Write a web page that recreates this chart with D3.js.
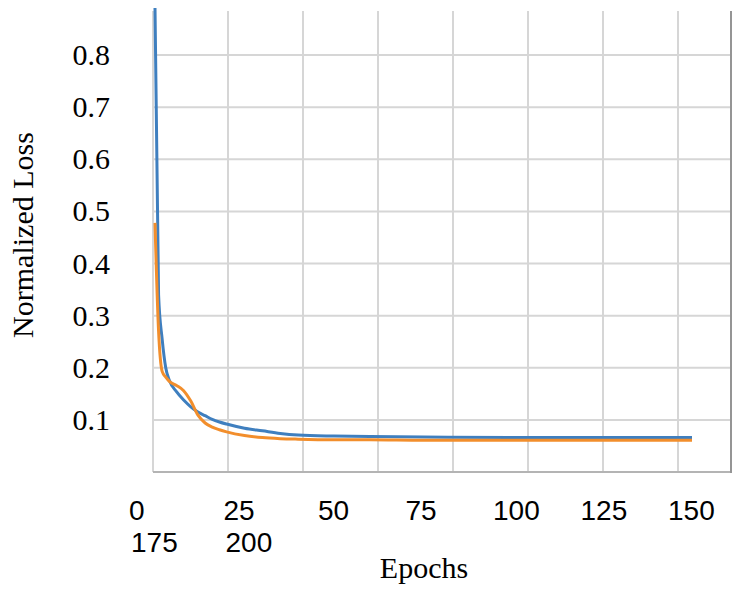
<!DOCTYPE html>
<html>
<head>
<meta charset="utf-8">
<script src="https://cdn.jsdelivr.net/npm/d3@7"></script>
<style>
  body { margin: 0; background: #fff; }
  svg { display: block; }
</style>
</head>
<body>
<div id="chart"></div>
<script>
// sampled epochs and the two loss curves
let epochs = [0, 1, 2, 3, 4, 6, 8, 10, 12, 14, 16, 18, 20, 25, 30, 35, 40, 50, 60, 75, 100, 125, 150];
let blueLoss = [0.89, 0.34, 0.255, 0.20, 0.176, 0.154, 0.138, 0.125, 0.115, 0.108, 0.101, 0.096, 0.092, 0.084, 0.079, 0.074, 0.071, 0.069, 0.068, 0.067, 0.066, 0.066, 0.066];
let orangeLoss = [0.478, 0.27, 0.193, 0.182, 0.174, 0.166, 0.156, 0.136, 0.109, 0.094, 0.086, 0.081, 0.077, 0.070, 0.066, 0.064, 0.063, 0.062, 0.062, 0.061, 0.061, 0.061, 0.061];

let yTicks = [0.1, 0.2, 0.3, 0.4, 0.5, 0.6, 0.7, 0.8];
let xTicks = [0, 25, 50, 75, 100, 125, 150];
let xTicksWrapped = ["175", "200"]; // second line under the first two tick labels
let gridEpochs = [0, 25, 50, 75, 100, 125, 150, 175];

var w = 747;
var h = 596;

var svg = d3.select('#chart').append('svg')
  .attr('width', w)
  .attr('height', h);

// scales
var x = d3.scaleLinear().domain([0, 150]).range([155, 692]);
var y = d3.scaleLinear().domain([0, 0.8]).range([472, 55]);
var xGrid = d3.scaleLinear().domain([0, 175]).range([153, 678]);
// tick labels are not evenly spaced in the picture
var xLabel = d3.scaleLinear().domain([0, 50, 150]).range([129, 318, 668]);

var plotTop = 11;
var plotRight = 731;

// grid
svg.append('g').selectAll('line')
  .data(yTicks)
  .enter().append('line')
  .attr('x1', xGrid(0)).attr('x2', plotRight)
  .attr('y1', d => y(d)).attr('y2', d => y(d))
  .attr('stroke', '#d6d6d6').attr('stroke-width', 2);

svg.append('g').selectAll('line')
  .data(gridEpochs)
  .enter().append('line')
  .attr('x1', d => xGrid(d)).attr('x2', d => xGrid(d))
  .attr('y1', plotTop).attr('y2', y(0))
  .attr('stroke', '#d6d6d6').attr('stroke-width', 2);

// bottom axis line and right border
svg.append('line')
  .attr('x1', xGrid(0)).attr('x2', plotRight)
  .attr('y1', y(0)).attr('y2', y(0))
  .attr('stroke', '#b4b4b4').attr('stroke-width', 2);
svg.append('line')
  .attr('x1', plotRight).attr('x2', plotRight)
  .attr('y1', plotTop).attr('y2', y(0) + 1)
  .attr('stroke', '#959595').attr('stroke-width', 2);

// curves
var line = d3.line()
  .x(d => x(d[0]))
  .y(d => y(d[1]))
  .curve(d3.curveMonotoneX);

svg.append('path')
  .datum(epochs.map((e, i) => [e, blueLoss[i]]))
  .attr('d', line)
  .attr('fill', 'none')
  .attr('stroke', '#3f7fbf')
  .attr('stroke-width', 3);

svg.append('path')
  .datum(epochs.map((e, i) => [e, orangeLoss[i]]))
  .attr('d', line)
  .attr('fill', 'none')
  .attr('stroke', '#f28e2c')
  .attr('stroke-width', 3);

// y tick labels
svg.append('g').selectAll('text')
  .data(yTicks)
  .enter().append('text')
  .attr('x', 110)
  .attr('y', d => y(d) + 10)
  .attr('text-anchor', 'end')
  .style('font-family', '"Liberation Serif", "Times New Roman", serif')
  .style('font-size', '30px')
  .attr('fill', '#000')
  .text(d => d.toFixed(1));

// x tick labels
svg.append('g').selectAll('text')
  .data(xTicks)
  .enter().append('text')
  .attr('x', d => xLabel(d))
  .attr('y', 520)
  .style('font-family', '"Liberation Sans", Arial, sans-serif')
  .style('font-size', '28px')
  .attr('fill', '#000')
  .text(d => d);

svg.append('g').selectAll('text')
  .data(xTicksWrapped)
  .enter().append('text')
  .attr('x', (d, i) => xLabel(xTicks[i]) + 2)
  .attr('y', 552)
  .style('font-family', '"Liberation Sans", Arial, sans-serif')
  .style('font-size', '28px')
  .attr('fill', '#000')
  .text(d => d);

// axis titles
svg.append('text')
  .attr('x', 424)
  .attr('y', 578)
  .attr('text-anchor', 'middle')
  .style('font-family', '"Liberation Serif", "Times New Roman", serif')
  .style('font-size', '30px')
  .text('Epochs');

svg.append('text')
  .attr('transform', 'translate(33,235) rotate(-90)')
  .attr('text-anchor', 'middle')
  .style('font-family', '"Liberation Serif", "Times New Roman", serif')
  .style('font-size', '30px')
  .text('Normalized Loss');
</script>
</body>
</html>
